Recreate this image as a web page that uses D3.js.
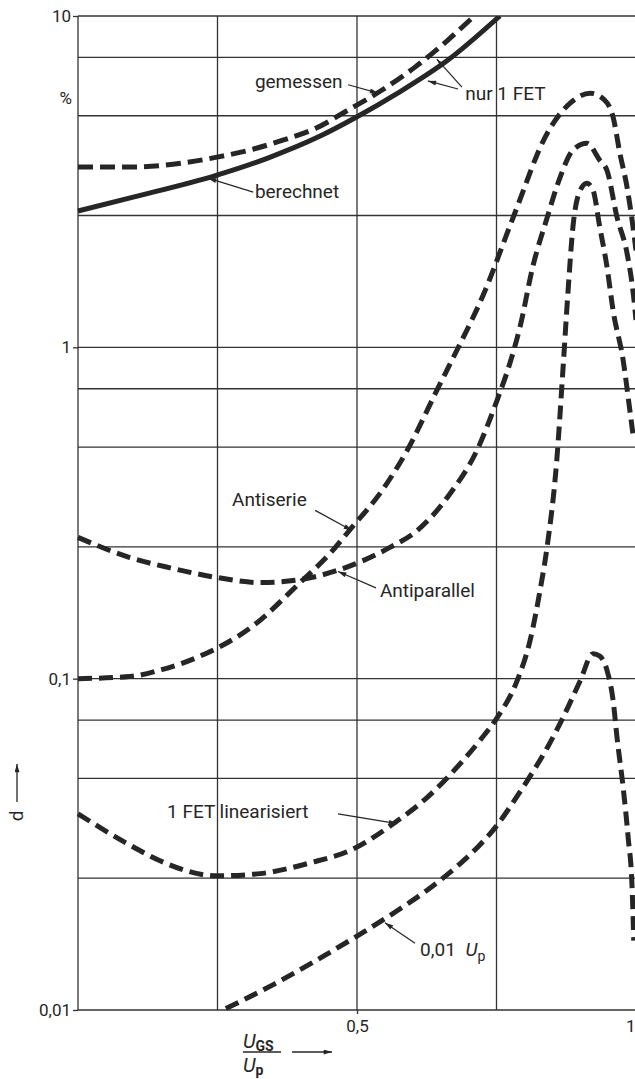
<!DOCTYPE html>
<html><head><meta charset="utf-8">
<script src="https://cdn.jsdelivr.net/npm/d3@7"></script>
<style>
html,body{margin:0;padding:0;background:#fff;}
svg{display:block;font-family:Roboto,"DejaVu Sans",sans-serif;}
</style></head>
<body>
<svg id="chart" width="635" height="1079"></svg>
<script>
// ---- data (x = U_GS/U_p, y = d in %) ----
const berechnetX = [0, 0.099, 0.249, 0.339, 0.434, 0.496, 0.573, 0.663, 0.756];
const berechnetY = [2.58, 2.84, 3.31, 3.72, 4.34, 4.92, 5.85, 7.36, 10];

const gemessenX = [0, 0.099, 0.188, 0.249, 0.308, 0.367, 0.427, 0.484, 0.545, 0.604, 0.663, 0.71];
const gemessenY = [3.5, 3.5, 3.6, 3.75, 3.94, 4.22, 4.59, 5.2, 5.98, 7.01, 8.46, 10];

const antiserieX = [0, 0.093, 0.15, 0.219, 0.314, 0.398, 0.452, 0.487, 0.547, 0.59, 0.643, 0.679, 0.726, 0.78, 0.841, 0.882, 0.918, 0.944, 0.959, 0.971, 0.984, 0.993, 1.0];
const antiserieY = [0.1, 0.1015, 0.1065, 0.117, 0.1445, 0.195, 0.239, 0.281, 0.374, 0.489, 0.741, 0.98, 1.435, 2.47, 4.43, 5.46, 5.85, 5.57, 4.95, 3.86, 3.04, 2.42, 1.96];

const antiparallelX = [0, 0.093, 0.165, 0.249, 0.326, 0.398, 0.464, 0.559, 0.608, 0.667, 0.715, 0.751, 0.774, 0.792, 0.815, 0.841, 0.864, 0.887, 0.912, 0.935, 0.948, 0.966, 0.984, 0.995, 1.0];
const antiparallelY = [0.267, 0.232, 0.216, 0.202, 0.195, 0.199, 0.212, 0.249, 0.28, 0.362, 0.489, 0.692, 0.895, 1.15, 1.75, 2.47, 3.26, 3.94, 4.13, 3.67, 3.42, 2.47, 1.92, 1.46, 1.21];

const linearX = [0, 0.088, 0.147, 0.249, 0.326, 0.416, 0.493, 0.565, 0.625, 0.685, 0.72, 0.751, 0.787, 0.81, 0.828, 0.841, 0.858, 0.869, 0.878, 0.887, 0.9, 0.912, 0.923, 0.935, 0.948, 0.959, 0.977, 0.989, 0.996];
const linearY = [0.0391, 0.0318, 0.0282, 0.0254, 0.0258, 0.0278, 0.0306, 0.0365, 0.0437, 0.0554, 0.065, 0.0762, 0.0986, 0.13, 0.1845, 0.252, 0.456, 0.852, 1.46, 2.31, 2.98, 3.13, 2.98, 2.31, 1.75, 1.29, 0.914, 0.645, 0.524];

const up001X = [0.265, 0.35, 0.42, 0.493, 0.565, 0.625, 0.685, 0.72, 0.751, 0.78, 0.81, 0.841, 0.869, 0.9, 0.923, 0.935, 0.948, 0.959, 0.966, 0.977, 0.986, 0.993, 0.996];
const up001Y = [0.0101, 0.01193, 0.0139, 0.01644, 0.01958, 0.02296, 0.02767, 0.03148, 0.0361, 0.0424, 0.0507, 0.0619, 0.0762, 0.0986, 0.119, 0.117, 0.106, 0.0859, 0.0664, 0.0469, 0.0331, 0.0234, 0.0162];

const xGridValues = [0, 0.25, 0.5, 0.75, 1];
const yGridValues = [10, 7.5, 5, 2.5, 1, 0.75, 0.5, 0.25, 0.1, 0.075, 0.05, 0.025, 0.01];
const yTickValues = [10, 1, 0.1, 0.01];
const yTickLabels = ["10", "1", "0,1", "0,01"];
const xTickValues = [0.5, 1];
const xTickLabels = ["0,5", "1"];

// annotations: label text, text anchor point, leader from -> to (data coords)
const labelNames = ["gemessen", "berechnet", "Antiserie", "Antiparallel", "1 FET linearisiert"];
const labelPos = [[0.317, 6.06], [0.317, 2.82], [0.41, 0.333], [0.541, 0.176], [0.1595, 0.038]];
const labelAnchor = ["start", "start", "end", "start", "start"];
const leaderFrom = [[0.484, 6.2], [0.314, 2.94], [0.425, 0.322], [0.534, 0.188], [0.466, 0.0391]];
const leaderTo = [[0.538, 5.85], [0.233, 3.24], [0.491, 0.28], [0.466, 0.2105], [0.572, 0.0365]];
const nurPos = [0.694, 5.57];
const nurLeaderFrom = [[0.688, 6.1], [0.681, 6.02]];
const nurLeaderTo = [[0.643, 7.41], [0.627, 6.37]];
const upPos = [0.613, 0.01456];
const upLeaderFrom = [0.604, 0.0159];
const upLeaderTo = [0.55, 0.01834];

// ---- drawing ----
const svg = d3.select("#chart");
const ink = "#262626";
const x = d3.scaleLinear().domain([0, 1]).range([78, 636]);
const y = d3.scaleLog().domain([0.01, 10]).range([1010, 16]);

const defs = svg.append("defs");
defs.append("marker").attr("id", "ah").attr("viewBox", "0 0 10 6")
  .attr("refX", 10).attr("refY", 3).attr("markerWidth", 9).attr("markerHeight", 5)
  .attr("markerUnits", "userSpaceOnUse").attr("orient", "auto")
  .append("path").attr("d", "M0,0 L10,3 L0,6 Z").attr("fill", ink);
defs.append("clipPath").attr("id", "plotclip").append("rect")
  .attr("x", 70).attr("y", 16).attr("width", 600).attr("height", 1000);

// grid
const g = svg.append("g");
g.selectAll("line.h").data(yGridValues).join("line")
  .attr("x1", x(0)).attr("x2", x(1)).attr("y1", d => y(d)).attr("y2", d => y(d))
  .attr("stroke", "#333").attr("stroke-width", 1.3);
g.selectAll("line.v").data(xGridValues).join("line")
  .attr("x1", d => x(d)).attr("x2", d => x(d)).attr("y1", y(10)).attr("y2", y(0.01))
  .attr("stroke", "#333").attr("stroke-width", 1.3);

// axes labels
const yAxis = d3.axisLeft(y).tickValues(yTickValues).tickSize(5).tickPadding(2)
  .tickFormat((d, i) => yTickLabels[i]);
const ya = svg.append("g").attr("transform", `translate(${x(0)},0)`).call(yAxis);
ya.select(".domain").remove();
ya.selectAll("line").attr("stroke", "#333").attr("stroke-width", 1.3);
ya.selectAll("text").attr("font-size", 17).attr("fill", ink).attr("font-family", "Roboto");

const xAxis = d3.axisBottom(x).tickValues(xTickValues).tickSize(4).tickPadding(6)
  .tickFormat((d, i) => xTickLabels[i]);
const xa = svg.append("g").attr("transform", `translate(0,${y(0.01)})`).call(xAxis);
xa.select(".domain").remove();
xa.selectAll("line").attr("stroke", "#333").attr("stroke-width", 1.3);
xa.selectAll("text").attr("font-size", 17).attr("fill", ink).attr("font-family", "Roboto")
  .attr("text-anchor", d => d === 1 ? "end" : "middle")
  .attr("dx", d => d === 1 ? -1 : 0);

// percent sign
svg.append("text").attr("x", 72).attr("y", 104).attr("text-anchor", "end")
  .attr("font-size", 17).attr("fill", ink).text("%");

// curves
const line = d3.line().x(d => x(d[0])).y(d => y(d[1])).curve(d3.curveMonotoneX);
const zip = (a, b) => a.map((v, i) => [v, b[i]]);
const curves = [
  {xs: berechnetX, ys: berechnetY, dash: null},
  {xs: gemessenX, ys: gemessenY, dash: "15 7"},
  {xs: antiserieX, ys: antiserieY, dash: "14 7"},
  {xs: antiparallelX, ys: antiparallelY, dash: "14 7"},
  {xs: linearX, ys: linearY, dash: "14 7"},
  {xs: up001X, ys: up001Y, dash: "14 7"}
];
const cg = svg.append("g").attr("clip-path", "url(#plotclip)");
curves.forEach(c => {
  cg.append("path").attr("d", line(zip(c.xs, c.ys)))
    .attr("fill", "none").attr("stroke", ink).attr("stroke-width", 5)
    .attr("stroke-dasharray", c.dash);
});

// annotations
const tg = svg.append("g").attr("fill", ink).attr("font-size", 19);
labelNames.forEach((t, i) => {
  tg.append("text").attr("x", x(labelPos[i][0])).attr("y", y(labelPos[i][1]))
    .attr("text-anchor", labelAnchor[i]).text(t);
  svg.append("line").attr("x1", x(leaderFrom[i][0])).attr("y1", y(leaderFrom[i][1]))
    .attr("x2", x(leaderTo[i][0])).attr("y2", y(leaderTo[i][1]))
    .attr("stroke", ink).attr("stroke-width", 1.2).attr("marker-end", "url(#ah)");
});
tg.append("text").attr("x", x(nurPos[0])).attr("y", y(nurPos[1])).text("nur 1 FET");
nurLeaderFrom.forEach((f, i) => {
  svg.append("line").attr("x1", x(f[0])).attr("y1", y(f[1]))
    .attr("x2", x(nurLeaderTo[i][0])).attr("y2", y(nurLeaderTo[i][1]))
    .attr("stroke", ink).attr("stroke-width", 1.2).attr("marker-end", "url(#ah)");
});
const ut = tg.append("text").attr("x", x(upPos[0])).attr("y", y(upPos[1]));
ut.append("tspan").text("0,01\u2002");
ut.append("tspan").attr("font-style", "italic").text("U");
ut.append("tspan").attr("font-size", 14).attr("dy", 5).text("p");
svg.append("line").attr("x1", x(upLeaderFrom[0])).attr("y1", y(upLeaderFrom[1]))
  .attr("x2", x(upLeaderTo[0])).attr("y2", y(upLeaderTo[1]))
  .attr("stroke", ink).attr("stroke-width", 1.2).attr("marker-end", "url(#ah)");

// y axis title: d ->
svg.append("text").attr("transform", "translate(23,816) rotate(-90)")
  .attr("text-anchor", "middle").attr("font-size", 19).attr("fill", ink).text("d");
svg.append("line").attr("x1", 17).attr("y1", 802).attr("x2", 17).attr("y2", 764)
  .attr("stroke", ink).attr("stroke-width", 1.3).attr("marker-end", "url(#ah)");

// x axis title: U_GS / U_p ->
const num = svg.append("text").attr("x", 243).attr("y", 1048).attr("fill", ink).attr("font-size", 20);
num.append("tspan").attr("font-style", "italic").text("U");
num.append("tspan").attr("font-size", 14).attr("font-weight", "bold").attr("dy", 3).text("GS");
svg.append("line").attr("x1", 243).attr("x2", 281).attr("y1", 1052).attr("y2", 1052)
  .attr("stroke", ink).attr("stroke-width", 1.5);
const den = svg.append("text").attr("x", 243).attr("y", 1072).attr("fill", ink).attr("font-size", 20);
den.append("tspan").attr("font-style", "italic").text("U");
den.append("tspan").attr("font-size", 14).attr("font-weight", "bold").attr("dy", 3).text("p");
svg.append("line").attr("x1", 292).attr("x2", 332).attr("y1", 1052).attr("y2", 1052)
  .attr("stroke", ink).attr("stroke-width", 1.3).attr("marker-end", "url(#ah)");
</script>
</body></html>
